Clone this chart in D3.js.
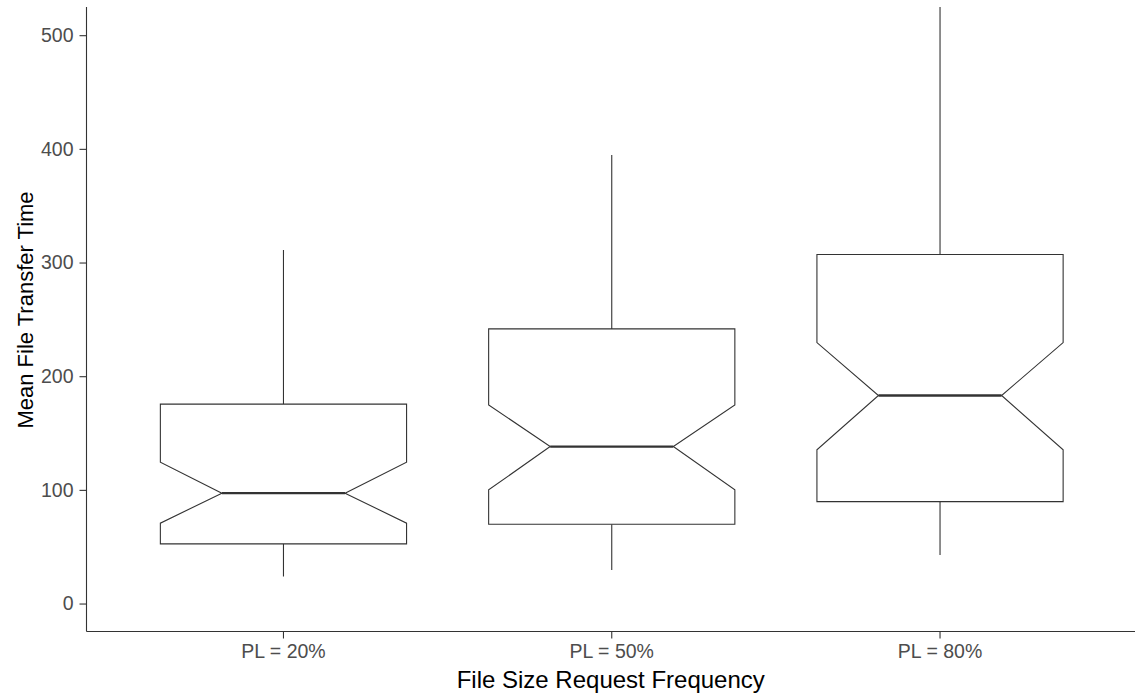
<!DOCTYPE html>
<html>
<head>
<meta charset="utf-8">
<script src="https://cdn.jsdelivr.net/npm/d3@7"></script>
<style>
  html, body { margin: 0; padding: 0; background: #fff; }
  svg { display: block; font-family: "Liberation Sans", Arial, sans-serif; }
</style>
</head>
<body>
<svg id="chart" width="1135" height="696"></svg>
<script>
// ---- data ----
const categories   = ["PL = 20%", "PL = 50%", "PL = 80%"];
const whiskerLow   = [23.7, 29.6, 42.8];
const q1           = [52.5, 69.8, 89.7];
const notchLow     = [70.7, 100.0, 135.2];
const medians      = [97.1, 138.1, 183.0];
const notchHigh    = [124.4, 174.8, 229.6];
const q3           = [175.4, 241.6, 307.0];
const whiskerHigh  = [311.0, 394.6, 560.0];
const yTicks       = [0, 100, 200, 300, 400, 500];
const xTitle = "File Size Request Frequency";
const yTitle = "Mean File Transfer Time";

const rows = categories.map((c, i) => ({
  cat: c, lo: whiskerLow[i], q1: q1[i], nlo: notchLow[i], med: medians[i],
  nhi: notchHigh[i], q3: q3[i], hi: whiskerHigh[i]
}));

// ---- layout ----
const svg = d3.select("#chart");
const panel = { left: 86.5, right: 1137, top: 7, bottom: 631.5 };

const x = d3.scaleBand()
  .domain(categories)
  .range([panel.left, panel.right])
  .paddingInner(0)
  .paddingOuter(0.1);

const y = d3.scaleLinear()
  .domain([-24.6, 524.8])
  .range([panel.bottom, panel.top]);

const boxW = x.step() * 0.75;
const stroke = "#333333";

// clip
svg.append("defs").append("clipPath").attr("id", "clip")
  .append("rect")
  .attr("x", panel.left).attr("y", panel.top)
  .attr("width", panel.right - panel.left)
  .attr("height", panel.bottom - panel.top);

const g = svg.append("g").attr("clip-path", "url(#clip)");

const boxes = g.selectAll("g.box").data(rows).join("g").attr("class", "box");

// whiskers
boxes.append("line")
  .attr("x1", d => x(d.cat) + x.bandwidth() / 2)
  .attr("x2", d => x(d.cat) + x.bandwidth() / 2)
  .attr("y1", d => y(d.q3)).attr("y2", d => y(d.hi))
  .attr("stroke", stroke).attr("stroke-width", 1.1);
boxes.append("line")
  .attr("x1", d => x(d.cat) + x.bandwidth() / 2)
  .attr("x2", d => x(d.cat) + x.bandwidth() / 2)
  .attr("y1", d => y(d.q1)).attr("y2", d => y(d.lo))
  .attr("stroke", stroke).attr("stroke-width", 1.1);

// notched box
boxes.append("path")
  .attr("d", d => {
    const cx = x(d.cat) + x.bandwidth() / 2;
    const L = cx - boxW / 2, R = cx + boxW / 2;
    const nL = cx - boxW / 4, nR = cx + boxW / 4;
    const pts = [
      [L, y(d.q1)], [R, y(d.q1)], [R, y(d.nlo)], [nR, y(d.med)], [R, y(d.nhi)],
      [R, y(d.q3)], [L, y(d.q3)], [L, y(d.nhi)], [nL, y(d.med)], [L, y(d.nlo)]
    ];
    return d3.line()(pts) + "Z";
  })
  .attr("fill", "white").attr("stroke", stroke).attr("stroke-width", 1.1)
  .attr("stroke-linejoin", "miter");

// median
boxes.append("line")
  .attr("x1", d => x(d.cat) + x.bandwidth() / 2 - boxW / 4)
  .attr("x2", d => x(d.cat) + x.bandwidth() / 2 + boxW / 4)
  .attr("y1", d => y(d.med)).attr("y2", d => y(d.med))
  .attr("stroke", stroke).attr("stroke-width", 2.3);

// ---- axes ----
const yAxis = d3.axisLeft(y).tickValues(yTicks).tickSize(7).tickPadding(6).tickSizeOuter(0);
const yg = svg.append("g").attr("transform", `translate(${panel.left},0)`).call(yAxis);
yg.select(".domain").attr("stroke", stroke).attr("stroke-width", 1.1)
  .attr("d", `M0,${panel.top}V${panel.bottom}`);
yg.selectAll(".tick line").attr("stroke", stroke).attr("stroke-width", 1.1);
yg.selectAll(".tick text").attr("fill", "#4D4D4D").attr("font-size", "19.5px")
  .attr("font-family", "'Liberation Sans', Arial, sans-serif");

const xAxis = d3.axisBottom(x).tickSize(7).tickPadding(6).tickSizeOuter(0);
const xg = svg.append("g").attr("transform", `translate(0,${panel.bottom})`).call(xAxis);
xg.select(".domain").attr("stroke", stroke).attr("stroke-width", 1.1)
  .attr("d", `M${panel.left},0H${panel.right}`);
xg.selectAll(".tick line").attr("stroke", stroke).attr("stroke-width", 1.1);
xg.selectAll(".tick text").attr("fill", "#4D4D4D").attr("font-size", "19.5px")
  .attr("font-family", "'Liberation Sans', Arial, sans-serif");

// titles
svg.append("text")
  .attr("x", (panel.left + panel.right) / 2 - 1)
  .attr("y", 688)
  .attr("text-anchor", "middle")
  .attr("font-size", "24px").attr("fill", "#000")
  .text(xTitle);

svg.append("text")
  .attr("transform", `translate(33,310) rotate(-90)`)
  .attr("text-anchor", "middle")
  .attr("font-size", "22px").attr("fill", "#000")
  .text(yTitle);
</script>
</body>
</html>
